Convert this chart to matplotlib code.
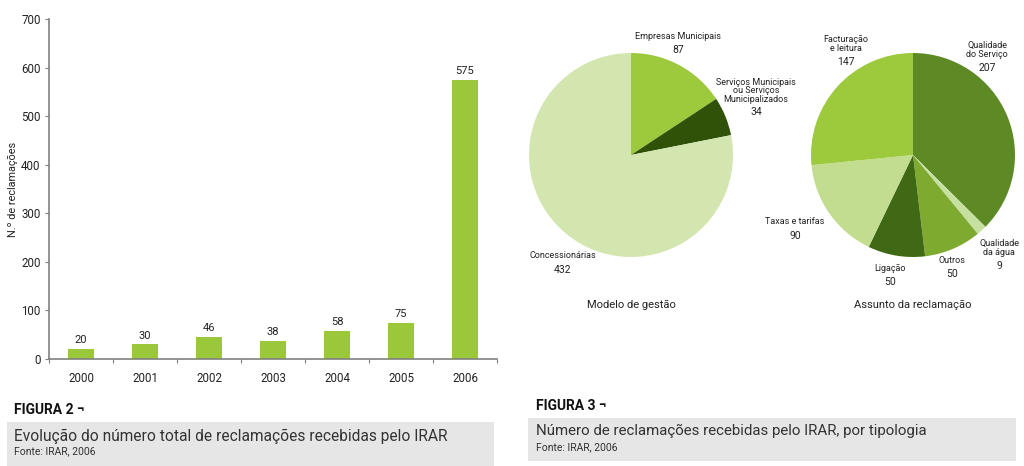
import matplotlib.pyplot as plt
import matplotlib.patches as patches

plt.rcParams['font.family'] = ['Roboto', 'DejaVu Sans']

# Figura 2 data
years = ['2000', '2001', '2002', '2003', '2004', '2005', '2006']
complaints = [20, 30, 46, 38, 58, 75, 575]

# Figura 3 data
model_labels = ['Empresas Municipais', 'Serviços Municipais\nou Serviços\nMunicipalizados', 'Concessionárias']
model_values = [87, 34, 432]
model_colors = ['#9dc93c', '#2f5208', '#d4e6b0']

subject_labels = ['Qualidade\ndo Serviço', 'Qualidade\nda água', 'Outros', 'Ligação',
                  'Taxas e tarifas', 'Facturação\ne leitura']
subject_values = [207, 9, 50, 50, 90, 147]
subject_colors = ['#5e8a25', '#c6e0a0', '#7eaa30', '#3f6914', '#c2dd8f', '#9dc93c']

W, H = 1024, 466
fig = plt.figure(figsize=(W / 100, H / 100), dpi=100)


def px(x, y):
    """pixel coords (top-left origin) -> figure fraction"""
    return x / W, 1 - y / H


# ---- bar chart ----
ax = fig.add_axes([49 / W, 1 - 359 / H, 448 / W, 340 / H])
xs = list(range(len(years)))
ax.bar(xs, complaints, width=0.4, color='#9bc83a')
for x, v in zip(xs, complaints):
    ax.text(x, v + 8, str(v), ha='center', va='bottom', fontsize=8, color='#222222')
ax.set_xlim(-0.5, len(years) - 0.5)
ax.set_ylim(0, 700)
ax.set_yticks(range(0, 701, 100))
ax.set_xticks([x - 0.5 for x in xs] + [len(years) - 0.5])
ax.set_xticklabels([])
ax.set_xticks(xs, minor=True)
ax.set_xticklabels(years, minor=True)
ax.tick_params(axis='x', which='minor', length=0, pad=9, labelsize=8.3, colors='#222222')
ax.tick_params(axis='x', which='major', length=3, color='#808080')
ax.tick_params(axis='y', length=3, color='#808080', labelsize=8.3, labelcolor='#222222', pad=3)
for s in ['top', 'right']:
    ax.spines[s].set_visible(False)
for s in ['left', 'bottom']:
    ax.spines[s].set_color('#808080')
    ax.spines[s].set_linewidth(1.2)
ax.set_ylabel('N.º de reclamações', fontsize=7.8, color='#222222', labelpad=2)

# ---- pie charts ----
def draw_pie(cx, cy, r, values, colors):
    pax = fig.add_axes([(cx - r) / W, 1 - (cy + r) / H, 2 * r / W, 2 * r / H])
    pax.pie(values, colors=colors, startangle=90, counterclock=False,
            wedgeprops=dict(linewidth=0))
    pax.set_xlim(-1, 1)
    pax.set_ylim(-1, 1)
    pax.set_aspect('equal')
    pax.axis('off')
    return pax


draw_pie(631, 155, 102, model_values, model_colors)
draw_pie(913, 155, 102, subject_values, subject_colors)


def label(x, y_text, y_val, name, value):
    fig.text(*px(x, y_text), name, ha='center', va='bottom', fontsize=6.5,
             color='#222222', linespacing=0.95)
    fig.text(*px(x, y_val), str(value), ha='center', va='center', fontsize=7.5,
             color='#222222')


label(678, 41, 50, model_labels[0], model_values[0])
label(756, 104, 112, model_labels[1], model_values[1])
label(563, 260, 270, model_labels[2], model_values[2])

label(987, 59, 68, subject_labels[0], subject_values[0])
label(999, 257, 266, subject_labels[1], subject_values[1])
label(952, 265, 274, subject_labels[2], subject_values[2])
label(890, 273, 282, subject_labels[3], subject_values[3])
label(795, 226, 236, subject_labels[4], subject_values[4])
label(846, 53, 62, subject_labels[5], subject_values[5])

fig.text(*px(631, 305), 'Modelo de gestão', ha='center', va='center', fontsize=8, color='#222222')
fig.text(*px(913, 305), 'Assunto da reclamação', ha='center', va='center', fontsize=8, color='#222222')

# ---- captions ----
fig.patches.append(patches.Rectangle(px(7, 466), 487 / W, 44 / H, transform=fig.transFigure,
                                     facecolor='#e6e6e6', edgecolor='none'))
fig.patches.append(patches.Rectangle(px(528, 461), 488 / W, 43 / H, transform=fig.transFigure,
                                     facecolor='#e6e6e6', edgecolor='none'))

fig.text(*px(14, 410), 'FIGURA 2 ¬', ha='left', va='center', fontsize=10, fontweight='bold', color='#111111')
fig.text(*px(14, 436), 'Evolução do número total de reclamações recebidas pelo IRAR',
         ha='left', va='center', fontsize=11.2, color='#333333')
fig.text(*px(14, 451), 'Fonte: IRAR, 2006', ha='left', va='center', fontsize=7.5, color='#333333')

fig.text(*px(536, 406), 'FIGURA 3 ¬', ha='left', va='center', fontsize=10, fontweight='bold', color='#111111')
fig.text(*px(536, 431), 'Número de reclamações recebidas pelo IRAR, por tipologia',
         ha='left', va='center', fontsize=10.8, color='#333333')
fig.text(*px(536, 447), 'Fonte: IRAR, 2006', ha='left', va='center', fontsize=7.5, color='#333333')

fig.savefig('out.png', dpi=100)
